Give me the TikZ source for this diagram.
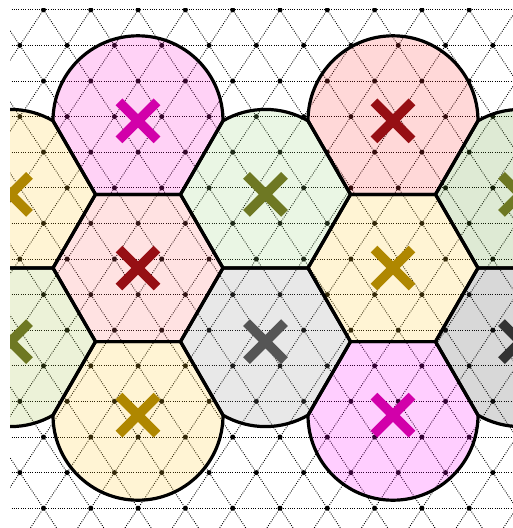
\documentclass[tikz,border=0pt]{standalone}
\definecolor{magA}{RGB}{255,30,210}
\definecolor{magE}{RGB}{255,10,255}
\definecolor{redA}{RGB}{255,60,60}
\definecolor{redC}{RGB}{255,110,110}
\definecolor{olB}{RGB}{150,210,120}
\definecolor{olR}{RGB}{90,150,40}
\definecolor{olD}{RGB}{160,190,60}
\definecolor{yelF}{RGB}{255,200,40}
\definecolor{grC}{RGB}{140,140,140}
\definecolor{grR}{RGB}{60,60,60}
\definecolor{xMag}{RGB}{210,0,170}
\definecolor{xRed}{RGB}{150,15,20}
\definecolor{xOl}{RGB}{110,120,35}
\definecolor{xGold}{RGB}{175,135,0}
\definecolor{xGray}{RGB}{85,85,85}
\definecolor{xGrayD}{RGB}{50,50,50}
\tikzset{
  latline/.style={black, line width=0.9pt, dash pattern=on 0.9pt off 1.4pt},
  latdot/.style={fill=black},
  cellfill/.style={fill=#1, fill opacity=0.2},
  celldraw/.style={draw=black, line width=3.2pt, line join=round},
  xstroke/.style={draw=#1, line width=9.5pt, line cap=butt}
}
% upper semicircle + lower half hexagon
\newcommand{\shpA}[3]{\path[#3] ({#1-85},{-#2}) arc[start angle=180,end angle=0,radius=85] -- ({#1+42.5},{-#2-73.6}) -- ({#1-42.5},{-#2-73.6}) -- cycle;}
% hexagon with upper part bulging between upper vertices
\newcommand{\shpB}[3]{\path[#3] ({#1-85},{-#2}) -- ({#1-42.5},{-#2+73.6}) arc[start angle=120,end angle=60,radius=85] -- ({#1+85},{-#2}) -- ({#1+42.5},{-#2-73.6}) -- ({#1-42.5},{-#2-73.6}) -- cycle;}
% full hexagon
\newcommand{\shpC}[3]{\path[#3] ({#1-85},{-#2}) -- ({#1-42.5},{-#2+73.6}) -- ({#1+42.5},{-#2+73.6}) -- ({#1+85},{-#2}) -- ({#1+42.5},{-#2-73.6}) -- ({#1-42.5},{-#2-73.6}) -- cycle;}
% hexagon with lower part bulging between lower vertices
\newcommand{\shpD}[3]{\path[#3] ({#1+85},{-#2}) -- ({#1+42.5},{-#2+73.6}) -- ({#1-42.5},{-#2+73.6}) -- ({#1-85},{-#2}) -- ({#1-42.5},{-#2-73.6}) arc[start angle=240,end angle=300,radius=85] -- cycle;}
% upper half hexagon + lower semicircle
\newcommand{\shpE}[3]{\path[#3] ({#1-85},{-#2}) -- ({#1-42.5},{-#2+73.6}) -- ({#1+42.5},{-#2+73.6}) -- ({#1+85},{-#2}) arc[start angle=0,end angle=-180,radius=85] -- cycle;}
\newcommand{\xcross}[3]{\draw[xstroke=#3] ({#1-19},{-#2+19}) -- ({#1+19},{-#2-19}) ({#1-19},{-#2-19}) -- ({#1+19},{-#2+19});}
\newcommand{\allcells}[1]{%
  \shpA{138}{120.8}{#1}\shpA{393}{120.8}{#1}%
  \shpB{10.5}{194.4}{#1}\shpB{265.5}{194.4}{#1}\shpB{520.5}{194.4}{#1}%
  \shpC{138}{268}{#1}\shpC{393}{268}{#1}%
  \shpD{10.5}{341.6}{#1}\shpD{265.5}{341.6}{#1}\shpD{520.5}{341.6}{#1}%
  \shpE{138}{415.2}{#1}\shpE{393}{415.2}{#1}}
\begin{document}
\begin{tikzpicture}[x=1pt,y=1pt]
\useasboundingbox (0,0) rectangle (513,-528);
\begin{scope}
\clip (10,-8.5) rectangle (540,-545);
% lattice lines
\foreach \k in {0,...,14} {\draw[latline] (0,{-9.8-35.6*\k}) -- (545,{-9.8-35.6*\k});}
\foreach \i in {-12,...,22} {
  \draw[latline] ({43.5+47.3*\i},-9.8) -- ++(354.75,-534);
  \draw[latline] ({43.5+47.3*\i},-9.8) -- ++(-354.75,-534);
}
% lattice dots
\foreach \k in {0,...,14} {\foreach \i in {-1,...,12} {
  \fill[latdot] ({43.5+47.3*\i-mod(\k,2)*23.65},{-9.8-35.6*\k}) circle (2.5);
}}
% fills
\shpA{138}{120.8}{cellfill=magA}
\shpA{393}{120.8}{cellfill=redA}
\shpB{10.5}{194.4}{cellfill=yelF}
\shpB{265.5}{194.4}{cellfill=olB}
\shpB{520.5}{194.4}{cellfill=olR}
\shpC{138}{268}{cellfill=redC}
\shpC{393}{268}{cellfill=yelF}
\shpD{10.5}{341.6}{cellfill=olD}
\shpD{265.5}{341.6}{cellfill=grC}
\shpD{520.5}{341.6}{cellfill=grR}
\shpE{138}{415.2}{cellfill=yelF}
\shpE{393}{415.2}{cellfill=magE}
% outlines
\allcells{celldraw}
% crosses
\xcross{138}{120.8}{xMag}
\xcross{393}{120.8}{xRed}
\xcross{10.5}{194.4}{xGold}
\xcross{265.5}{194.4}{xOl}
\xcross{520.5}{194.4}{xOl}
\xcross{138}{268}{xRed}
\xcross{393}{268}{xGold}
\xcross{10.5}{341.6}{xOl}
\xcross{265.5}{341.6}{xGray}
\xcross{520.5}{341.6}{xGrayD}
\xcross{138}{415.2}{xGold}
\xcross{393}{415.2}{xMag}
\end{scope}
\end{tikzpicture}
\end{document}
